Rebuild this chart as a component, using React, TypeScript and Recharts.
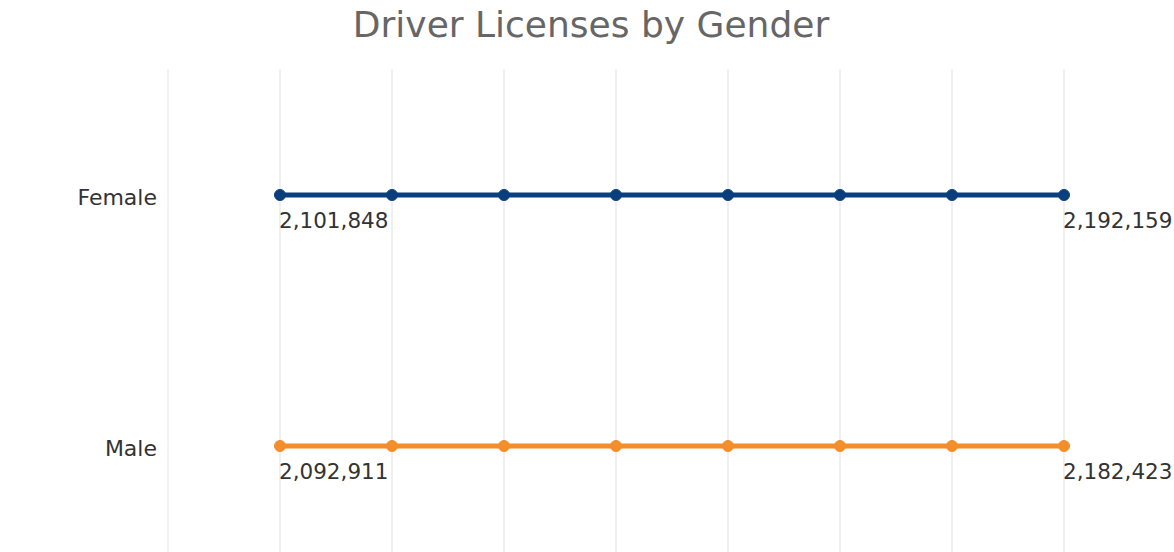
import React from 'react';
import { LineChart, Line, XAxis, YAxis, CartesianGrid, LabelList, ReferenceLine } from 'recharts';

const years = [2015, 2016, 2017, 2018, 2019, 2020, 2021, 2022];
const genders = ['Female', 'Male'];
// Only the first and last values are labelled in the reference.
const femaleLicenses: (number | null)[] = [2101848, null, null, null, null, null, null, 2192159];
const maleLicenses: (number | null)[] = [2092911, null, null, null, null, null, null, 2182423];

const femaleData = years.map((year, i) => ({ year, gender: 'Female', licenses: femaleLicenses[i] }));
const maleData = years.map((year, i) => ({ year, gender: 'Male', licenses: maleLicenses[i] }));

const FEMALE_COLOR = '#0a3f7d';
const MALE_COLOR = '#f28e2b';
const FONT = '"DejaVu Sans", sans-serif';

const fmt = (v: number) => v.toLocaleString('en-US');

const ValueLabel = (props: any) => {
  const { x, y, value } = props;
  if (value === null || value === undefined) return null;
  return (
    <text x={x - 1} y={y + 33} textAnchor="start" fill="#333333" fontSize={21.5} fontFamily={FONT}>
      {fmt(value)}
    </text>
  );
};

const GenderTick = (props: any) => {
  const { x, y, payload } = props;
  return (
    <text x={x} y={y + 10} textAnchor="end" fill="#333333" fontSize={22} fontFamily={FONT}>
      {payload.value}
    </text>
  );
};

export default function App() {
  return (
    <div style={{ position: 'fixed', top: 0, left: 0, width: 1174, height: 552, background: '#ffffff' }}>
      <svg
        width={1174}
        height={60}
        style={{ position: 'absolute', top: 0, left: 0, pointerEvents: 'none' }}
      >
        <text x={591} y={37} textAnchor="middle" fill="#666666" fontSize={36} fontFamily={FONT}>
          Driver Licenses by Gender
        </text>
      </svg>
      <LineChart width={1174} height={552} margin={{ top: 69, right: 110, bottom: 0, left: 8 }}>
        <CartesianGrid vertical horizontal={false} stroke="#ebebeb" strokeWidth={1.5} />
        <ReferenceLine x={2014} stroke="#f4f4f4" strokeWidth={1.5} />
        <XAxis
          dataKey="year"
          type="number"
          domain={[2014, 2022]}
          ticks={years}
          hide
          allowDuplicatedCategory={false}
        />
        <YAxis
          dataKey="gender"
          type="category"
          domain={genders}
          allowDuplicatedCategory={false}
          scale="point"
          reversed
          padding={{ top: 126, bottom: 106 }}
          width={160}
          axisLine={false}
          tickLine={false}
          tickMargin={5}
          tick={GenderTick}
        />
        <Line
          data={femaleData}
          dataKey="gender"
          stroke={FEMALE_COLOR}
          strokeWidth={5}
          dot={{ r: 5.5, fill: FEMALE_COLOR, stroke: FEMALE_COLOR, strokeWidth: 1 }}
          isAnimationActive={false}
        >
          <LabelList dataKey="licenses" content={ValueLabel} />
        </Line>
        <Line
          data={maleData}
          dataKey="gender"
          stroke={MALE_COLOR}
          strokeWidth={5}
          dot={{ r: 5.5, fill: MALE_COLOR, stroke: MALE_COLOR, strokeWidth: 1 }}
          isAnimationActive={false}
        >
          <LabelList dataKey="licenses" content={ValueLabel} />
        </Line>
      </LineChart>
    </div>
  );
}
